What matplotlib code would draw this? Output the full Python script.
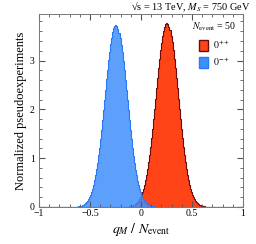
import numpy as np
import matplotlib.pyplot as plt
from matplotlib.patches import Patch
from matplotlib.ticker import MultipleLocator

plt.rcParams['font.family'] = ['Liberation Serif', 'DejaVu Serif']
plt.rcParams['mathtext.fontset'] = 'stix'

# histogram bins (width 0.01) over [-1, 1]
bin_edges = np.round(np.arange(-1.0, 1.0001, 0.01), 2)

# 0-+ hypothesis, first filled bin starts at -0.65
blue_start = -0.65
blue_rise = [0.003, 0.005, 0.007, 0.009, 0.013, 0.018, 0.024, 0.032, 0.042, 0.056,
             0.073, 0.094, 0.121, 0.154, 0.194, 0.243, 0.301, 0.369, 0.449, 0.542,
             0.648, 0.768, 0.904, 1.054, 1.217, 1.393, 1.581, 1.779, 1.984, 2.194,
             2.404, 2.612, 2.813, 3.003, 3.178, 3.335, 3.469, 3.577, 3.656, 3.704]
blue_peak = 3.72
blue_fall = [3.702, 3.652, 3.571, 3.462, 3.328, 3.172, 2.998, 2.807, 2.606, 2.398,
             2.189, 1.979, 1.775, 1.577, 1.390, 1.214, 1.051, 0.902, 0.766, 0.646,
             0.540, 0.447, 0.367, 0.299, 0.241, 0.193, 0.153, 0.120, 0.093, 0.072,
             0.055, 0.042, 0.031, 0.023, 0.017, 0.013, 0.009, 0.006, 0.004, 0.003]
blue_vals = blue_rise + [blue_peak] + blue_fall

# 0++ hypothesis, first filled bin starts at -0.15
red_start = -0.15
red_rise = [0.003, 0.005, 0.007, 0.010, 0.013, 0.018, 0.024, 0.032, 0.043, 0.056,
            0.074, 0.095, 0.122, 0.155, 0.196, 0.245, 0.304, 0.373, 0.454, 0.548,
            0.655, 0.776, 0.913, 1.065, 1.229, 1.407, 1.597, 1.797, 2.004, 2.216,
            2.428, 2.638, 2.841, 3.033, 3.210, 3.369, 3.504, 3.613, 3.693, 3.741]
red_peak = 3.76
red_fall = [3.743, 3.695, 3.616, 3.508, 3.373, 3.215, 3.038, 2.846, 2.643, 2.432,
            2.220, 2.008, 1.800, 1.600, 1.410, 1.232, 1.067, 0.915, 0.778, 0.657,
            0.549, 0.455, 0.374, 0.305, 0.246, 0.197, 0.156, 0.123, 0.096, 0.074,
            0.057, 0.043, 0.032, 0.024, 0.018, 0.013, 0.010, 0.007, 0.005, 0.003]
red_vals = red_rise + [red_peak] + red_fall


def full_hist(start, vals):
    h = np.zeros(len(bin_edges) - 1)
    i0 = int(round((start + 1.0) / 0.01))
    h[i0:i0 + len(vals)] = vals
    return h


red_h = full_hist(red_start, red_vals)
blue_h = full_hist(blue_start, blue_vals)

fig = plt.figure(figsize=(2.56, 2.44), dpi=100)
ax = fig.add_axes([0.152, 0.152, 0.797, 0.79])

red_fill = '#ff4418'
red_edge = '#6a0c0c'
blue_fill = '#3f8ffb'
blue_edge = '#2a78f8'

ax.stairs(red_h, bin_edges, fill=True, color=red_fill)
ax.stairs(red_h, bin_edges, color=red_edge, lw=0.8)
ax.stairs(blue_h, bin_edges, fill=True, color=blue_fill, alpha=0.85)
ax.stairs(blue_h, bin_edges, color=blue_edge, lw=0.8)

ax.set_xlim(-1, 1)
ax.set_ylim(0, 3.95)
ax.xaxis.set_major_locator(MultipleLocator(0.5))
ax.xaxis.set_minor_locator(MultipleLocator(0.1))
ax.yaxis.set_major_locator(MultipleLocator(1))
ax.yaxis.set_minor_locator(MultipleLocator(0.2))
ax.set_xticks([-1, -0.5, 0, 0.5, 1])
ax.set_xticklabels(['\u22121', '\u22120.5', '0', '0.5', '1'])
ax.tick_params(which='both', direction='in', top=True, right=True,
               labelsize=7, color='#555555')
ax.tick_params(axis='x', pad=1.5)
ax.tick_params(axis='y', pad=3)
ax.tick_params(which='major', length=4)
ax.tick_params(which='minor', length=2)
for s in ax.spines.values():
    s.set_color('#777777')
    s.set_linewidth(0.7)

ax.set_ylabel('Normalized pseudoexperiments', fontsize=9, labelpad=2)
ax.set_xlabel(r'$q_M\ /\ N_{\mathrm{event}}$', fontsize=10, labelpad=2)
fig.text(0.977, 0.956, '\u221as = 13 TeV, $M_S$ = 750 GeV', fontsize=7.4,
         ha='right', va='baseline')

handles = [Patch(facecolor=red_fill, edgecolor=red_edge, label=r'$0^{++}$'),
           Patch(facecolor=blue_fill, edgecolor=blue_edge, label=r'$0^{-+}$')]
ax.legend(handles=handles, loc='upper right', frameon=False, fontsize=7,
          title=r'$N_{\mathrm{event}}$ = 50', title_fontsize=7,
          handlelength=0.9, handleheight=1.3, borderaxespad=0.3,
          handletextpad=0.5, labelspacing=0.5)

fig.savefig('out.png', dpi=100)
